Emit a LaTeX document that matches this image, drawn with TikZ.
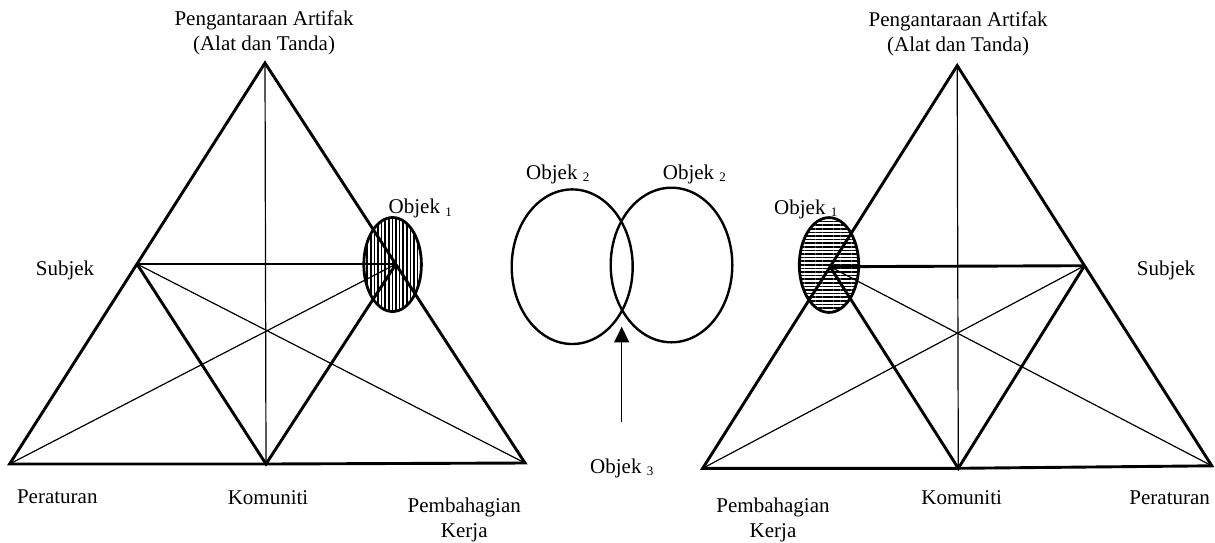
\documentclass[tikz,border=0pt]{standalone}
\usepackage{fontspec}
\setmainfont{Liberation Serif}
\usetikzlibrary{patterns.meta,arrows.meta}
\newcommand{\objk}[1]{Objek {\fontsize{13}{13}\selectfont\raisebox{-2.5pt}{#1}}}
\begin{document}
\begin{tikzpicture}[x=1pt,y=-1pt,
  thickln/.style={line width=2.9pt, line join=miter},
  thinln/.style={line width=1.2pt},
  lbl/.style={inner sep=0pt, anchor=base, font=\fontsize{21}{24.5}\selectfont, align=center},
  lblw/.style={inner sep=0pt, anchor=base west, font=\fontsize{21}{24.5}\selectfont},
  ring/.style={line width=2.4pt},
  hatchv/.style={line width=2.8pt, pattern={Lines[angle=90,distance=3.6pt,line width=1.6pt]}},
  hatchh/.style={line width=2.8pt, pattern={Lines[angle=0,distance=3.6pt,line width=1.6pt]}}
  ]
\useasboundingbox (0,0) rectangle (1215,542);

% ---------- left triangle ----------
\coordinate (LA)  at (265,63);
\coordinate (LBL) at (9.6,464);
\coordinate (LK)  at (266,464);
\coordinate (LBR) at (525,463);
\coordinate (LS)  at (137,264);
\coordinate (LO)  at (396,264);

\draw[thickln] (LA) -- (LBL) -- (LK) -- (LBR) -- cycle;
\draw[thinln] (LA) -- (LK);
\draw[thickln] (LS) -- (LO);
\draw[thickln] (LS) -- (LK) -- (LO);
\draw[thinln] (LS) -- (LBR);
\draw[thinln] (LBL) -- (LO);
\draw[hatchv] (392.6,264.5) ellipse [x radius=28.8, y radius=47];

\node[lbl] (lArt) at (264,50) {Pengantaraan Artifak\\(Alat dan Tanda)};
\node[lbl] (lSub) at (65,275) {Subjek};
\node[lbl] (lPer) at (57.3,503) {Peraturan};
\node[lbl] (lKom) at (268,504) {Komuniti};
\node[lbl] (lPem) at (464.3,537) {Pembahagian\\Kerja};
\node[lblw] (lObj) at (388.5,213.5) {\objk{1}};

% ---------- middle ----------
\draw[ring] (572.2,266.7) ellipse [x radius=60.5, y radius=77.3];
\draw[ring] (671.5,265) ellipse [x radius=60.8, y radius=77.3];
\node[lblw] (mObjA) at (526,179.3) {\objk{2}};
\node[lblw] (mObjB) at (662.7,179.3) {\objk{2}};
\node[lblw] (mObjC) at (590,473.3) {\objk{3}};
\coordinate (AS) at (621.7,422.3);
\coordinate (AE) at (621.7,326.7);
\draw[line width=1.3pt, -{Triangle[length=15.7pt,width=15pt]}] (AS) -- (AE);

% ---------- right triangle ----------
\coordinate (RA)  at (957.2,65.6);
\coordinate (RBL) at (702.7,468.3);
\coordinate (RK)  at (958.3,468.3);
\coordinate (RBR) at (1211.8,465.8);
\coordinate (RO)  at (830,266.7);
\coordinate (RS)  at (1084.5,265.7);

\draw[thickln] (RA) -- (RBL) -- (RK) -- (RBR) -- cycle;
\draw[thinln] (RA) -- (RK);
\draw[thickln] (RO) -- (RS);
\draw[thickln] (RO) -- (RK) -- (RS);
\draw[thinln] (RO) -- (RBR);
\draw[thinln] (RBL) -- (RS);
\draw[hatchh] (829,265) ellipse [x radius=29.7, y radius=47.4];

\node[lbl] (rArt) at (958.2,51) {Pengantaraan Artifak\\(Alat dan Tanda)};
\node[lbl] (rSub) at (1166,275) {Subjek};
\node[lbl] (rPem) at (773,537) {Pembahagian\\Kerja};
\node[lbl] (rKom) at (961.7,504) {Komuniti};
\node[lbl] (rPer) at (1169.7,504) {Peraturan};
\node[lblw] (rObj) at (774,214) {\objk{1}};
\end{tikzpicture}
\end{document}
